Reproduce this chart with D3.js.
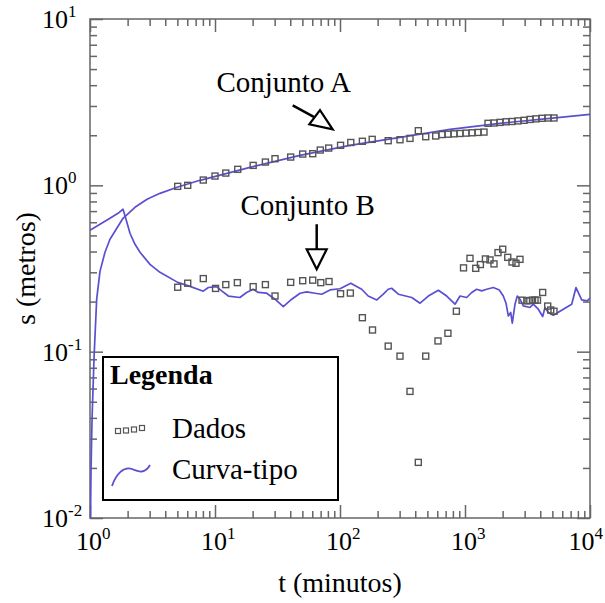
<!DOCTYPE html>
<html>
<head>
<meta charset="utf-8">
<script src="https://cdn.jsdelivr.net/npm/d3@7"></script>
<style>
  body { margin: 0; background: #fff; }
  text { font-family: "Liberation Serif", "Times New Roman", serif; fill: #000; }
</style>
</head>
<body>
<script>
// dados medidos - conjunto A
var tDadosA = [5.03, 6.05, 8.06, 10, 12.2, 15.2, 20.2, 25.3, 30.2, 40.3, 50.3, 60.5, 69.5, 81.2, 101, 122, 151, 181, 243, 302, 363, 423, 485, 583,
  655, 731, 817, 912, 1019, 1138, 1271, 1419, 1528, 1706, 1905, 2128, 2377, 2655, 2965, 3311, 3698, 4130, 4613, 5152];
var sDadosA = [0.986, 1.0, 1.076, 1.137, 1.185, 1.248, 1.318, 1.38, 1.446, 1.479, 1.542, 1.55, 1.63, 1.675, 1.74, 1.81, 1.84, 1.89, 1.855, 1.88, 1.915, 2.13, 1.96, 1.98,
  2.02, 2.03, 2.04, 2.05, 2.06, 2.07, 2.08, 2.09, 2.36, 2.37, 2.39, 2.41, 2.42, 2.44, 2.46, 2.49, 2.51, 2.53, 2.54, 2.54];

// dados medidos - conjunto B
var tDadosB = [5.03, 6.05, 8.06, 10.1, 12.2, 15.1, 20.2, 25.3, 30.2, 40.3, 50.3, 60.5, 70.2, 81.7, 101, 121, 151, 182, 243, 302, 363, 423, 485, 608, 730, 853,
  973, 1096, 1219, 1328, 1457, 1585, 1706, 1836, 2003, 2198, 2377, 2558, 2753, 2860, 3124, 3300, 3467, 3630, 3801, 4181, 4588, 4850, 5152];
var sDadosB = [0.244, 0.258, 0.275, 0.240, 0.253, 0.260, 0.246, 0.253, 0.216, 0.261, 0.267, 0.269, 0.260, 0.264, 0.223, 0.225, 0.160, 0.135, 0.108, 0.094, 0.0577, 0.0216, 0.094, 0.116, 0.129, 0.175,
  0.319, 0.364, 0.317, 0.334, 0.361, 0.356, 0.337, 0.394, 0.413, 0.369, 0.346, 0.340, 0.359, 0.204, 0.202, 0.203, 0.204, 0.204, 0.204, 0.227, 0.188, 0.178, 0.175];

// curva-tipo A
var tCurvaA = [1.009, 1.019, 1.038, 1.076, 1.131, 1.202, 1.318, 1.445, 1.837, 2.29, 2.86, 3.63, 4.97, 7.59, 19.05, 47.9, 120, 302, 759, 1905, 4786, 10000];
var sCurvaA = [0.01, 0.0197, 0.039, 0.090, 0.207, 0.304, 0.396, 0.474, 0.634, 0.738, 0.824, 0.895, 0.973, 1.072, 1.283, 1.514, 1.74, 1.94, 2.17, 2.36, 2.53, 2.67];

// curva-tipo B
var tCurvaB = [1.0, 1.202, 1.445, 1.675, 1.837, 1.941, 2.089, 2.291, 2.512, 3.02, 3.63, 5.03, 6.31, 8.06, 8.84, 10.3, 11.3, 12.8, 15.8, 17.9, 20.2, 22.2, 25.9, 30.2, 35.2, 41.1, 47.9,
  54.2, 63.1, 71.4, 83.2, 100, 122, 149, 168, 197, 222, 243, 259, 293, 375, 437, 509, 612, 714, 832, 912, 1032, 1131, 1240, 1360, 1492, 1684, 1881, 2025, 2128,
  2221, 2321, 2390, 2512, 2620, 2754, 2927, 3311, 3518, 3858, 4183, 4365, 4638, 5088, 6115, 7140, 7727, 8584, 9515, 10000];
var sCurvaB = [0.537, 0.583, 0.634, 0.679, 0.718, 0.625, 0.515, 0.442, 0.396, 0.335, 0.300, 0.261, 0.247, 0.231, 0.243, 0.246, 0.232, 0.216, 0.2116, 0.2268, 0.2373, 0.227, 0.2246, 0.2067, 0.1868, 0.2067, 0.2246,
  0.2287, 0.2246, 0.2215, 0.235, 0.239, 0.258, 0.2373, 0.216, 0.2047, 0.2215, 0.2373, 0.2406, 0.2215, 0.2116, 0.1956, 0.216, 0.234, 0.216, 0.1929, 0.216, 0.2116, 0.2268, 0.2373, 0.232, 0.2373, 0.243, 0.235, 0.216, 0.1956,
  0.164, 0.172, 0.1483, 0.1929, 0.216, 0.2067, 0.1884, 0.1843, 0.1929, 0.18, 0.1627, 0.1843, 0.172, 0.1657, 0.18, 0.1929, 0.243, 0.2047, 0.2019, 0.2096];

var xMajor = [1, 10, 100, 1000, 10000];
var xExpoentes = ["0", "1", "2", "3", "4"];
var yMajor = [0.01, 0.1, 1, 10];
var yExpoentes = ["-2", "-1", "0", "1"];

var anotacoes = [
  { texto: "Conjunto A", t: 87.4, s: 2.17 },
  { texto: "Conjunto B", t: 65.1, s: 0.313 }
];

var width = 605, height = 603;
var margin = { top: 19, right: 15, bottom: 85, left: 90 };
var cor = "#5b4fd1";

var svg = d3.select("body").append("svg")
  .attr("width", width)
  .attr("height", height);

var xScale = d3.scaleLog().domain([1, 1e4]).range([margin.left, width - margin.right]);
var yScale = d3.scaleLog().domain([0.01, 10]).range([height - margin.bottom, margin.top]);

function minors(lo, hi) {
  var out = [];
  for (var p = lo; p < hi; p *= 10)
    for (var k = 2; k <= 9; k++) out.push(p * k);
  return out;
}
var xMinor = minors(1, 1e4);
var yMinor = minors(0.01, 10);

var x0 = xScale.range()[0], x1 = xScale.range()[1];
var y0 = yScale.range()[0], y1 = yScale.range()[1];

// ticks para dentro nos quatro lados
function ticks(axis, vals, size, transform) {
  var g = svg.append("g")
    .attr("transform", transform)
    .call(axis.tickValues(vals).tickSize(size).tickFormat(""));
  g.select(".domain").remove();
  g.selectAll(".tick line").attr("stroke", "#666").attr("stroke-width", 1.5);
}
ticks(d3.axisBottom(xScale), xMajor, -13, `translate(0,${y0})`);
ticks(d3.axisBottom(xScale), xMinor, -7, `translate(0,${y0})`);
ticks(d3.axisTop(xScale), xMajor, -13, `translate(0,${y1})`);
ticks(d3.axisTop(xScale), xMinor, -7, `translate(0,${y1})`);
ticks(d3.axisLeft(yScale), yMajor, -13, `translate(${x0},0)`);
ticks(d3.axisLeft(yScale), yMinor, -7, `translate(${x0},0)`);
ticks(d3.axisRight(yScale), yMajor, -13, `translate(${x1},0)`);
ticks(d3.axisRight(yScale), yMinor, -7, `translate(${x1},0)`);

svg.append("rect")
  .attr("x", x0).attr("y", y1)
  .attr("width", x1 - x0).attr("height", y0 - y1)
  .attr("fill", "none")
  .attr("stroke", "#666")
  .attr("stroke-width", 1.5);

// rotulos das potencias de 10
var xLab = svg.selectAll(".xlab").data(xMajor).enter().append("text")
  .attr("class", "xlab")
  .attr("x", function(d) { return xScale(d) - 14; })
  .attr("y", y0 + 32)
  .style("font-size", "26px");
xLab.append("tspan").text("10");
xLab.append("tspan").attr("dy", -11).style("font-size", "17px")
  .text(function(d, i) { return xExpoentes[i]; });
// o ultimo rotulo encosta na borda
xLab.each(function() {
  var w = this.getComputedTextLength();
  var x = +this.getAttribute("x");
  if (x + w > width - 2) this.setAttribute("x", width - 2 - w);
});

var yLab = svg.selectAll(".ylab").data(yMajor).enter().append("text")
  .attr("class", "ylab")
  .attr("x", 42)
  .attr("y", function(d) { return yScale(d) + 9; })
  .style("font-size", "26px");
yLab.append("tspan").text("10");
yLab.append("tspan").attr("dy", -11).style("font-size", "17px")
  .text(function(d, i) { return yExpoentes[i]; });

svg.append("text")
  .attr("x", (x0 + x1) / 2)
  .attr("y", 592)
  .attr("text-anchor", "middle")
  .style("font-size", "28px")
  .text("t (minutos)");

svg.append("text")
  .attr("transform", `translate(35,${(y0 + y1) / 2}) rotate(-90)`)
  .attr("text-anchor", "middle")
  .style("font-size", "28px")
  .text("s (metros)");

// curvas
svg.append("clipPath").attr("id", "clip")
  .append("rect").attr("x", x0).attr("y", y1).attr("width", x1 - x0).attr("height", y0 - y1);

var line = d3.line()
  .x(function(d) { return xScale(d[0]); })
  .y(function(d) { return yScale(d[1]); });

[[tCurvaA, sCurvaA], [tCurvaB, sCurvaB]].forEach(function(c) {
  svg.append("path")
    .datum(d3.zip(c[0], c[1]))
    .attr("clip-path", "url(#clip)")
    .attr("d", line)
    .attr("fill", "none")
    .attr("stroke", cor)
    .attr("stroke-width", 1.7)
    .attr("stroke-linejoin", "round");
});

// pontos
var lado = 6;
[[tDadosA, sDadosA], [tDadosB, sDadosB]].forEach(function(c) {
  svg.append("g").selectAll("rect")
    .data(d3.zip(c[0], c[1]))
    .enter()
    .append("rect")
      .attr("x", function(d) { return xScale(d[0]) - lado / 2; })
      .attr("y", function(d) { return yScale(d[1]) - lado / 2; })
      .attr("width", lado)
      .attr("height", lado)
      .attr("fill", "none")
      .attr("stroke", "#555")
      .attr("stroke-width", 1.4);
});

// anotacoes com seta
var setaA = anotacoes[0], setaB = anotacoes[1];
var ax = xScale(setaA.t), ay = yScale(setaA.s);
svg.append("line")
  .attr("x1", ax - 40).attr("y1", ay - 24)
  .attr("x2", ax - 18).attr("y2", ay - 12)
  .attr("stroke", "#000").attr("stroke-width", 2.5);
svg.append("path")
  .attr("d", `M${ax},${ay} L${ax - 12.7},${ay - 19.3} L${ax - 23.4},${ay - 5} Z`)
  .attr("fill", "#fff").attr("stroke", "#000").attr("stroke-width", 2.2)
  .attr("stroke-linejoin", "miter");
svg.append("text")
  .attr("x", ax - 49).attr("y", ay - 37)
  .attr("text-anchor", "middle")
  .style("font-size", "29px")
  .text(setaA.texto);

var bx = xScale(setaB.t), by = yScale(setaB.s);
svg.append("line")
  .attr("x1", bx).attr("y1", by - 45)
  .attr("x2", bx).attr("y2", by - 20)
  .attr("stroke", "#000").attr("stroke-width", 2.5);
svg.append("path")
  .attr("d", `M${bx},${by} L${bx - 10},${by - 20} L${bx + 10},${by - 20} Z`)
  .attr("fill", "#fff").attr("stroke", "#000").attr("stroke-width", 2.2);
svg.append("text")
  .attr("x", bx - 9).attr("y", by - 54)
  .attr("text-anchor", "middle")
  .style("font-size", "29px")
  .text(setaB.texto);

// legenda
var leg = svg.append("g");
leg.append("rect")
  .attr("x", 103).attr("y", 357)
  .attr("width", 235).attr("height", 143)
  .attr("fill", "#fff")
  .attr("stroke", "#000")
  .attr("stroke-width", 2);
leg.append("text")
  .attr("x", 110).attr("y", 384)
  .style("font-size", "28px")
  .style("font-weight", "bold")
  .text("Legenda");
leg.selectAll(".lsq").data([[118, 431], [126, 430.5], [134, 429.5], [142, 428]]).enter()
  .append("rect")
    .attr("class", "lsq")
    .attr("x", function(d) { return d[0] - 2.5; })
    .attr("y", function(d) { return d[1] - 2.5; })
    .attr("width", 5).attr("height", 5)
    .attr("fill", "none").attr("stroke", "#555").attr("stroke-width", 1.2);
leg.append("text").attr("x", 172).attr("y", 438).style("font-size", "29px").text("Dados");
leg.append("path")
  .attr("d", "M112,486 C116,474 124,466 132,469 C139,472 145,474 150,465")
  .attr("fill", "none").attr("stroke", cor).attr("stroke-width", 1.8);
leg.append("text").attr("x", 172).attr("y", 479).style("font-size", "29px").text("Curva-tipo");
</script>
</body>
</html>
